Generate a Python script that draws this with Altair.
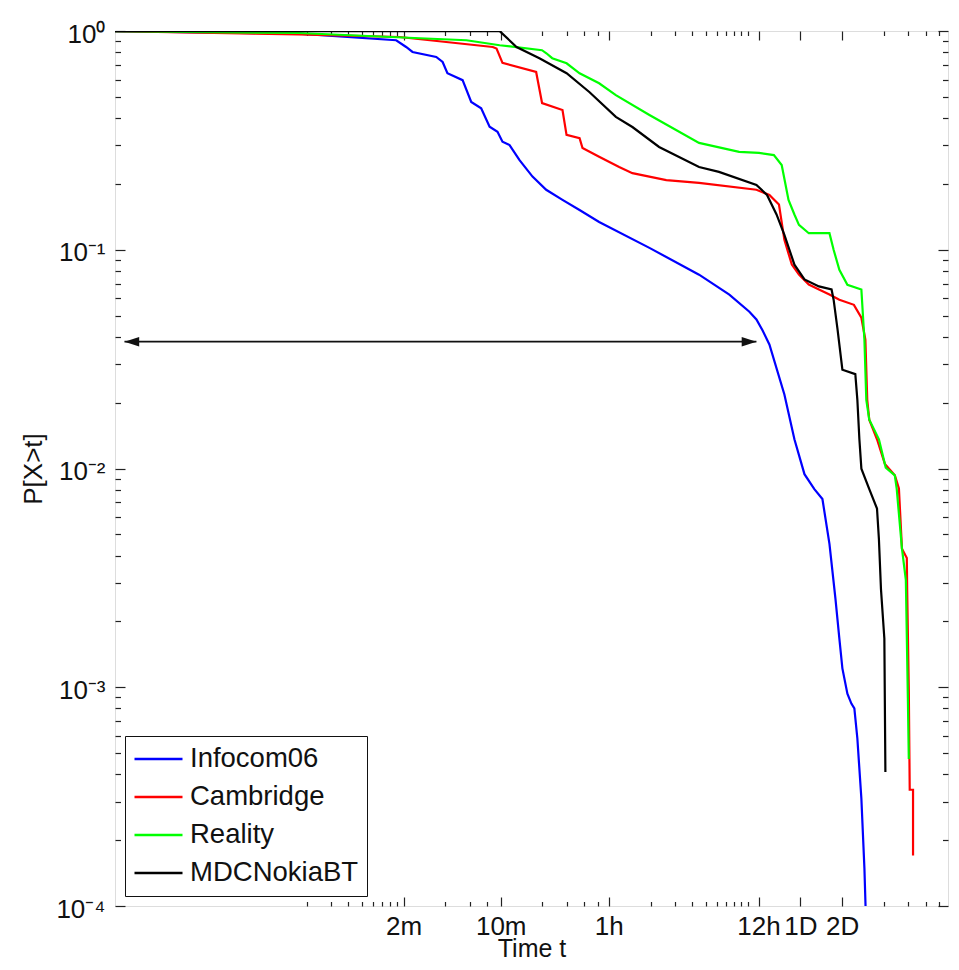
import altair as alt
import pandas as pd

# ---------------- data ----------------
series_names = ["Infocom06", "Cambridge", "Reality", "MDCNokiaBT"]
series_colors = ["#0000ff", "#ff0000", "#00ff00", "#000000"]

# time in seconds, P[X>t]
infocom_t = [1, 21, 106, 125, 139, 206, 229, 248, 319, 368, 434, 499, 569, 618, 695, 820,
             1017, 1276, 1672, 2218, 3070, 7070, 16100, 26600, 37100, 41700,
             46000, 51700, 66300, 78300, 92500,
             109000, 124600, 140000, 154600, 165000, 173500, 188500, 201400, 211600, 222400,
             237700, 250000, 256000]
infocom_p = [0.998, 0.973, 0.907, 0.845, 0.802, 0.761, 0.722, 0.641, 0.596, 0.474, 0.443, 0.365,
             0.346, 0.312, 0.301, 0.257, 0.216, 0.188, 0.169, 0.152, 0.134, 0.102, 0.0769,
             0.0623, 0.0521, 0.048, 0.043,
             0.0369, 0.0218, 0.0136, 0.00942, 0.00805, 0.00725, 0.00452, 0.00254, 0.00167,
             0.00122, 0.000935, 0.000842, 0.0008, 0.000583, 0.00031, 0.000149, 0.00009]

cambridge_t = [1, 21, 112, 526, 560, 618, 1080, 1192, 1672, 1788, 2220, 2330, 3070, 4280, 5330,
               9350, 16100, 41700, 51700, 60600, 66300, 75000, 84400, 99400, 117600, 140000,
               165000, 210000, 237700, 254000, 262000, 271000, 308000, 351000, 414000, 443000,
               466000, 505000, 508000, 522000, 530000, 560000, 560001]
cambridge_p = [0.998, 0.966, 0.939, 0.845, 0.831, 0.715, 0.650, 0.468, 0.435, 0.335, 0.324, 0.292,
               0.266, 0.239, 0.224, 0.208, 0.202, 0.188, 0.178, 0.161, 0.111, 0.0855, 0.077,
               0.0693, 0.0658, 0.0624, 0.0591, 0.056, 0.0489, 0.0388, 0.0206, 0.0167, 0.0136,
               0.0105, 0.0093, 0.0081, 0.0043, 0.0039, 0.0028, 0.00097, 0.00034, 0.00034, 0.00017]

reality_t = [1, 21, 340, 590, 1190, 1280, 1410, 1790, 2220, 3070, 4050, 7070, 16100, 31300, 43500,
             55700, 63400, 71000, 78300, 84400, 99400, 140000, 150000, 165000, 188500, 237700,
             250000, 258000, 271000, 318000, 356000, 414000, 427000, 466000, 497000, 514000, 522000]
reality_p = [0.998, 0.979, 0.907, 0.861, 0.817, 0.791, 0.751, 0.712, 0.641, 0.577, 0.509, 0.413,
             0.308, 0.280, 0.277, 0.271, 0.244, 0.169, 0.145, 0.130, 0.119, 0.119, 0.100, 0.081,
             0.0692, 0.0658, 0.0388, 0.0206, 0.0167, 0.0136, 0.0101, 0.0093, 0.0081, 0.0043,
             0.0031, 0.00089, 0.00047]

mdc_t = [1, 590, 780, 1140, 1790, 2620, 4050, 5330, 8300, 16100, 22400, 41700, 49700, 58200,
         66300, 78300, 92500, 117600, 145000, 150000, 160000, 173500, 215000, 222400, 230000,
         237700, 271000, 308000, 318000, 329000, 348000, 354000]
mdc_p = [0.9995, 0.999, 0.845, 0.751, 0.641, 0.525, 0.405, 0.364, 0.295, 0.239, 0.227, 0.198,
         0.178, 0.145, 0.117, 0.0855, 0.0732, 0.068, 0.0658, 0.0591, 0.0434, 0.0283, 0.027,
         0.0206, 0.0136, 0.00998, 0.00805, 0.00656, 0.00475, 0.00281, 0.00167, 0.00041]

# double arrow annotation
arrow_t = [1.17, 41700]
arrow_p = 0.038

# axis ticks
x_major = [120, 600, 3600, 43200, 86400, 172800]
x_major_labels = ["2m", "10m", "1h", "12h", "1D", "2D"]
x_minor = [24, 36, 48, 60, 72, 84, 96, 108, 240, 360, 480, 1200, 1800, 2400, 3000,
           7200, 10800, 14400, 18000, 21600, 25200, 28800, 32400, 36000,
           345600, 518400, 691200, 864000]
y_major = [0.0001, 0.001, 0.01, 0.1, 1]
y_major_labels = ["10\u207b\u2074", "10\u207b\u00b3", "10\u207b\u00b2", "10\u207b\u00b9", "10\u2070"]
y_minor = [k * 10.0 ** e for e in range(-4, 0) for k in range(2, 10)]

# ---------------- build ----------------
rows = []
for name, ts, ps in zip(series_names,
                        [infocom_t, cambridge_t, reality_t, mdc_t],
                        [infocom_p, cambridge_p, reality_p, mdc_p]):
    for i, (t, p) in enumerate(zip(ts, ps)):
        rows.append({"series": name, "t": t, "p": p, "order": i})
df = pd.DataFrame(rows)

W, H = 833, 875
FONT = "Liberation Sans"
FS = 26
AX = "#222222"

xscale = alt.Scale(type="log", domain=[1, 1e6], nice=False)
yscale = alt.Scale(type="log", domain=[1e-4, 1], nice=False)

x_label_expr = " : ".join(
    f"datum.value == {v} ? '{l}'" for v, l in zip(x_major, x_major_labels)) + " : ''"
y_label_expr = " : ".join(
    f"abs(datum.value - {v}) < {v * 1e-6} ? '{l}'" for v, l in zip(y_major, y_major_labels)) + " : ''"

x_major_test = "indexof([" + ",".join(str(v) for v in x_major) + "], datum.value) >= 0"
y_major_test = "indexof([" + ",".join(repr(v) for v in y_major) + "], datum.value) >= 0"

x_tick_size = {"condition": {"test": x_major_test, "value": 9}, "value": 4.5}
y_tick_size = {"condition": {"test": y_major_test, "value": 10}, "value": 5.5}

tick_common = dict(labels=False, domain=False, grid=False, title=None,
                   tickColor=AX, tickWidth=1.2)

base = alt.Chart(df)

lines = base.mark_line(strokeWidth=2.2, clip=True).encode(
    x=alt.X("t:Q", scale=xscale,
            axis=alt.Axis(orient="bottom", values=x_major, labelExpr=x_label_expr,
                          ticks=False, tickSize=0, domain=False, grid=False,
                          title="Time t", labelFont=FONT, labelFontSize=FS,
                          labelColor="#111", titleFont=FONT, titleFontSize=25,
                          titleFontWeight="normal", titleColor="#111",
                          labelPadding=7, titlePadding=-3, labelOverlap=False,
                          labelFlush=False, labelBound=False)),
    y=alt.Y("p:Q", scale=yscale,
            axis=alt.Axis(orient="left", values=y_major, labelExpr=y_label_expr,
                          ticks=False, tickSize=0, domain=False, grid=False,
                          title="P[X>t]", labelFont=FONT, labelFontSize=FS,
                          labelColor="#111", titleFont=FONT, titleFontSize=FS,
                          titleFontWeight="normal", titleColor="#111",
                          labelPadding=10, labelOffset=3, titlePadding=9,
                          labelOverlap=False, labelFlush=False, labelBound=False)),
    color=alt.Color("series:N",
                    scale=alt.Scale(domain=series_names, range=series_colors),
                    legend=alt.Legend(orient="none", legendX=10, legendY=705,
                                      title=None, symbolType="stroke",
                                      symbolSize=2304, symbolStrokeWidth=2.5,
                                      labelFont=FONT, labelFontSize=27.5,
                                      labelColor="#111", labelOffset=6, labelLimit=400,
                                      clipHeight=30, rowPadding=8, padding=8,
                                      strokeColor="#111", fillColor="white",
                                      symbolOpacity=1)),
    order="order:Q",
)

ticks_a = base.mark_line(opacity=0).encode(
    x=alt.X("t:Q", scale=xscale,
            axis=alt.Axis(orient="top", offset=-H, values=x_major + x_minor,
                          tickSize=x_tick_size, **tick_common)),
    y=alt.Y("p:Q", scale=yscale,
            axis=alt.Axis(orient="right", offset=-W, values=y_major + y_minor,
                          tickSize=y_tick_size, **tick_common)),
    detail="series:N",
)

ticks_b = base.mark_line(opacity=0).encode(
    x=alt.X("t:Q", scale=xscale,
            axis=alt.Axis(orient="bottom", offset=-H, values=x_major + x_minor,
                          tickSize=x_tick_size, **tick_common)),
    y=alt.Y("p:Q", scale=yscale,
            axis=alt.Axis(orient="left", offset=-W, values=y_major + y_minor,
                          tickSize=y_tick_size, **tick_common)),
    detail="series:N",
)

arrow_df = pd.DataFrame({"t1": [arrow_t[0]], "t2": [arrow_t[1]], "p": [arrow_p]})
arrow_line = alt.Chart(arrow_df).mark_rule(color="#111", strokeWidth=1.8).encode(
    x=alt.X("t1:Q", scale=xscale, axis=None),
    x2="t2:Q",
    y=alt.Y("p:Q", scale=yscale, axis=None),
)
heads_df = pd.DataFrame({"t": arrow_t, "p": [arrow_p, arrow_p], "dir": ["left", "right"]})
head_left = "M0,0 L1.7,-0.55 L1.7,0.55 Z"
head_right = "M0,0 L-1.7,-0.55 L-1.7,0.55 Z"
arrow_heads = alt.Chart(heads_df).mark_point(filled=True, color="#111", opacity=1,
                                             size=300, strokeWidth=0).encode(
    x=alt.X("t:Q", scale=xscale, axis=None),
    y=alt.Y("p:Q", scale=yscale, axis=None),
    shape=alt.Shape("dir:N", scale=alt.Scale(domain=["left", "right"],
                                             range=[head_left, head_right]),
                    legend=None),
)

chart = alt.layer(ticks_a, ticks_b, arrow_line, arrow_heads, lines).resolve_axis(
    x="independent", y="independent"
).properties(
    width=W, height=H, autosize="none",
    padding={"left": 107, "top": 23, "right": 3, "bottom": 56},
).configure_view(stroke=AX, strokeWidth=1.2).configure(background="white")

chart.save("out.html", embed_options={"renderer": "svg", "actions": False})
